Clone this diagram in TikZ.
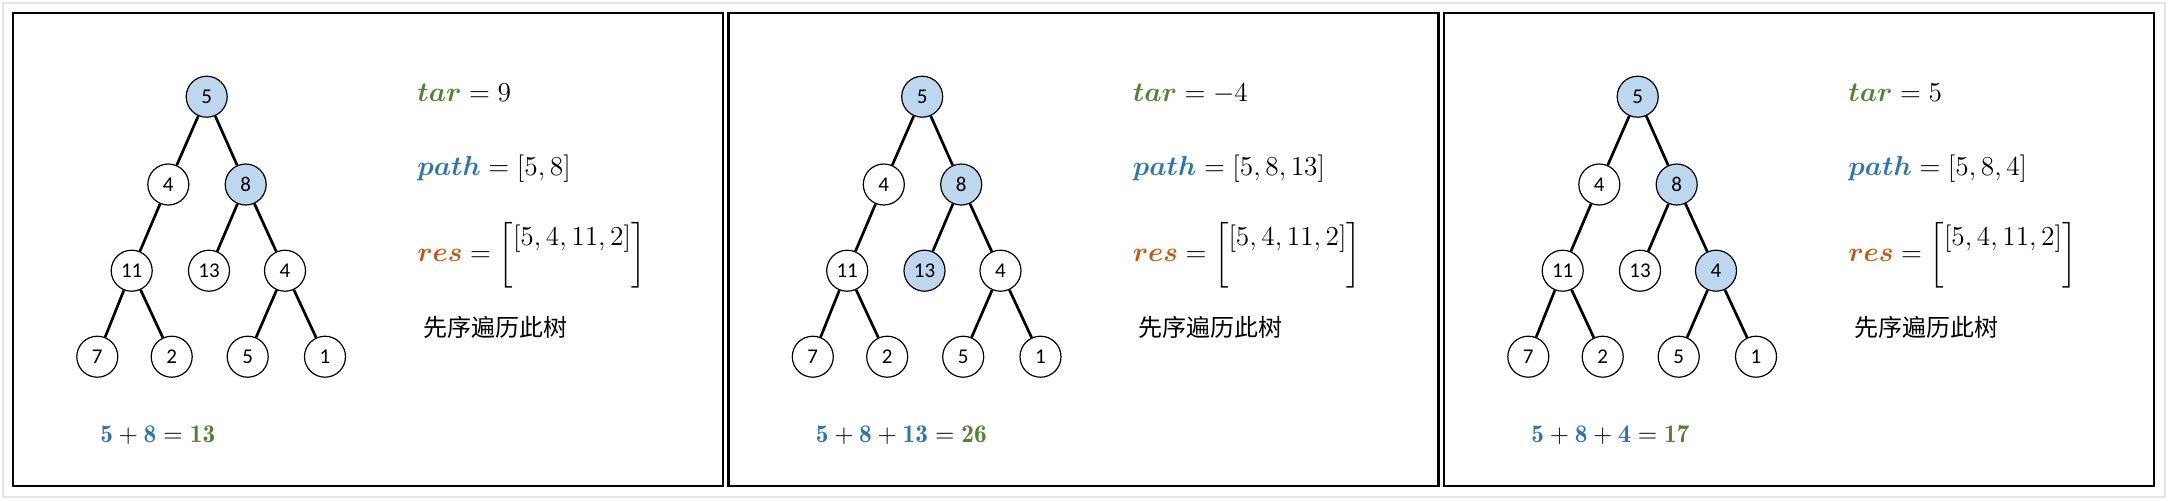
\RequirePackage{fix-cm}
\documentclass[tikz,border=0pt]{standalone}
\usepackage{amsmath}
\usepackage{amssymb}
\usepackage{fontspec}
\newfontfamily\nodefont{Carlito}
\newfontfamily\cjkfont{Noto Sans CJK SC}
\usepackage{tikz}
\usetikzlibrary{positioning}
\definecolor{pathblue}{RGB}{46,117,182}
\definecolor{targreen}{RGB}{84,130,53}
\definecolor{resorange}{RGB}{197,90,17}
\definecolor{nodeblue}{RGB}{189,215,238}
\tikzstyle{vertex} = [draw, circle, line width = 0.6pt, minimum size = 20.5pt, inner sep = 0pt, fill = white, font = \nodefont\fontsize{10.5}{12}\selectfont]
\tikzstyle{visited} = [vertex, fill = nodeblue]
\tikzstyle{edge} = [line width = 1.35pt]
\tikzstyle{panel} = [draw, line width = 1.25pt]
\tikzstyle{formula} = [anchor = base west, inner sep = 0pt, font = \fontsize{13.7}{15.5}\selectfont]
\tikzstyle{total} = [anchor = base west, inner sep = 0pt, font = \fontsize{12.7}{15}\selectfont]
\tikzstyle{note} = [anchor = west, inner sep = 0pt, font = \cjkfont\fontsize{12}{14}\selectfont]

\begin{document}
\begin{tikzpicture}[x = 0.5pt, y = -0.5pt]
	
		\useasboundingbox (0,0) rectangle (2168,500);
		\draw[gray!20, line width = 1pt] (3,3) rectangle (2165,497);
		
		% Panel 1: tar = 9
		\begin{scope}
		\draw[panel] (13,13) rectangle (723,486);
		% Tree
		\node[visited] (a1) at (206.7,96.7) {5};
		\node[vertex] (a2) at (168.3,184.5) {4};
		\node[visited] (a3) at (245.7,184.5) {8};
		\node[vertex] (a4) at (131.7,270.7) {11};
		\node[vertex] (a5) at (209,270.7) {13};
		\node[vertex] (a6) at (285,270.7) {4};
		\node[vertex] (a7) at (97.3,356.7) {7};
		\node[vertex] (a8) at (171.7,356.7) {2};
		\node[vertex] (a9) at (247.7,356.7) {5};
		\node[vertex] (a10) at (325,356.7) {1};
		\draw[edge] (a1) -- (a2);
		\draw[edge] (a1) -- (a3);
		\draw[edge] (a2) -- (a4);
		\draw[edge] (a3) -- (a5);
		\draw[edge] (a3) -- (a6);
		\draw[edge] (a4) -- (a7);
		\draw[edge] (a4) -- (a8);
		\draw[edge] (a6) -- (a9);
		\draw[edge] (a6) -- (a10);
		% Values
		\node[formula] (tar1) at (417,101.7) {${\color{targreen}\boldsymbol{tar}} = 9$};
		\node[formula] (path1) at (417,175) {${\color{pathblue}\boldsymbol{path}} = [5,8]$};
		\node[formula] (res1) at (417,261.7) {${\color{resorange}\boldsymbol{res}} = \begin{bmatrix}[5,4,11,2]\\ \phantom{0}\end{bmatrix}$};
		\node[note] (pre1) at (423,327) {先序遍历此树};
		\node[total] (sum1) at (100,442.5) {${\color{pathblue}\mathbf{5}} + {\color{pathblue}\mathbf{8}} = {\color{targreen}\mathbf{13}}$};
		\end{scope}
		
		% Panel 2: tar = -4
		\begin{scope}[shift = {(715.5,0)}]
		\draw[panel] (13,13) rectangle (723,486);
		% Tree
		\node[visited] (b1) at (206.7,96.7) {5};
		\node[vertex] (b2) at (168.3,184.5) {4};
		\node[visited] (b3) at (245.7,184.5) {8};
		\node[vertex] (b4) at (131.7,270.7) {11};
		\node[visited] (b5) at (209,270.7) {13};
		\node[vertex] (b6) at (285,270.7) {4};
		\node[vertex] (b7) at (97.3,356.7) {7};
		\node[vertex] (b8) at (171.7,356.7) {2};
		\node[vertex] (b9) at (247.7,356.7) {5};
		\node[vertex] (b10) at (325,356.7) {1};
		\draw[edge] (b1) -- (b2);
		\draw[edge] (b1) -- (b3);
		\draw[edge] (b2) -- (b4);
		\draw[edge] (b3) -- (b5);
		\draw[edge] (b3) -- (b6);
		\draw[edge] (b4) -- (b7);
		\draw[edge] (b4) -- (b8);
		\draw[edge] (b6) -- (b9);
		\draw[edge] (b6) -- (b10);
		% Values
		\node[formula] (tar2) at (417,101.7) {${\color{targreen}\boldsymbol{tar}} = -4$};
		\node[formula] (path2) at (417,175) {${\color{pathblue}\boldsymbol{path}} = [5,8,13]$};
		\node[formula] (res2) at (417,261.7) {${\color{resorange}\boldsymbol{res}} = \begin{bmatrix}[5,4,11,2]\\ \phantom{0}\end{bmatrix}$};
		\node[note] (pre2) at (423,327) {先序遍历此树};
		\node[total] (sum2) at (100,442.5) {${\color{pathblue}\mathbf{5}} + {\color{pathblue}\mathbf{8}} + {\color{pathblue}\mathbf{13}} = {\color{targreen}\mathbf{26}}$};
		\end{scope}
		
		% Panel 3: tar = 5
		\begin{scope}[shift = {(1431,0)}]
		\draw[panel] (13,13) rectangle (723,486);
		% Tree
		\node[visited] (c1) at (206.7,96.7) {5};
		\node[vertex] (c2) at (168.3,184.5) {4};
		\node[visited] (c3) at (245.7,184.5) {8};
		\node[vertex] (c4) at (131.7,270.7) {11};
		\node[vertex] (c5) at (209,270.7) {13};
		\node[visited] (c6) at (285,270.7) {4};
		\node[vertex] (c7) at (97.3,356.7) {7};
		\node[vertex] (c8) at (171.7,356.7) {2};
		\node[vertex] (c9) at (247.7,356.7) {5};
		\node[vertex] (c10) at (325,356.7) {1};
		\draw[edge] (c1) -- (c2);
		\draw[edge] (c1) -- (c3);
		\draw[edge] (c2) -- (c4);
		\draw[edge] (c3) -- (c5);
		\draw[edge] (c3) -- (c6);
		\draw[edge] (c4) -- (c7);
		\draw[edge] (c4) -- (c8);
		\draw[edge] (c6) -- (c9);
		\draw[edge] (c6) -- (c10);
		% Values
		\node[formula] (tar3) at (417,101.7) {${\color{targreen}\boldsymbol{tar}} = 5$};
		\node[formula] (path3) at (417,175) {${\color{pathblue}\boldsymbol{path}} = [5,8,4]$};
		\node[formula] (res3) at (417,261.7) {${\color{resorange}\boldsymbol{res}} = \begin{bmatrix}[5,4,11,2]\\ \phantom{0}\end{bmatrix}$};
		\node[note] (pre3) at (423,327) {先序遍历此树};
		\node[total] (sum3) at (100,442.5) {${\color{pathblue}\mathbf{5}} + {\color{pathblue}\mathbf{8}} + {\color{pathblue}\mathbf{4}} = {\color{targreen}\mathbf{17}}$};
		\end{scope}
		
	\end{tikzpicture}
\end{document}
